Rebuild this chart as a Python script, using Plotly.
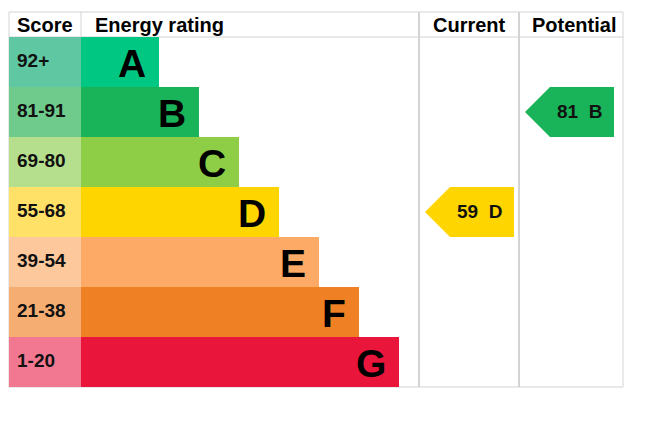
import plotly.graph_objects as go

# EPC data
bands = ["A", "B", "C", "D", "E", "F", "G"]
score_labels = ["92+", "81-91", "69-80", "55-68", "39-54", "21-38", "1-20"]
band_min = [92, 81, 69, 55, 39, 21, 1]
band_colors = ["#00c781", "#19b459", "#8dce46", "#ffd500", "#fcaa65", "#ef8023", "#e9153b"]
score_colors = ["#5fc7a1", "#6ecb8c", "#b6df8d", "#ffe168", "#fdc89c", "#f6ad72", "#f27891"]
current_score = 59
potential_score = 81

FONT = "Arial, Liberation Sans, sans-serif"
GRID = "#d3d3d3"

# table geometry (pixel-like x units, one row per y unit)
x_left, x_score, x_cur, x_pot, x_right = 9, 81, 419, 519, 623
bar_base, bar_step = 78, 40
y_top, y_head = -1.0, -0.5
y_bottom = len(bands) - 0.5
page_off = 8  # body margin of the page


def band_index(score):
    for i, lo in enumerate(band_min):
        if score >= lo:
            return i
    return len(bands) - 1


rows = list(range(len(bands)))
lengths = [bar_base + bar_step * i for i in rows]

fig = go.Figure()

# score cells
fig.add_trace(go.Bar(
    y=rows, x=[x_score - x_left] * len(rows), base=x_left,
    orientation="h", width=1.0,
    marker=dict(color=score_colors, line=dict(width=0)),
    hoverinfo="skip", showlegend=False
))

# rating bars
fig.add_trace(go.Bar(
    y=rows, x=lengths, base=x_score,
    orientation="h", width=1.0,
    marker=dict(color=band_colors, line=dict(width=0)),
    hoverinfo="skip", showlegend=False
))

# band letters and score text
for i in rows:
    fig.add_annotation(x=x_score + lengths[i] - 11, y=i + 0.02, text="<b>%s</b>" % bands[i],
                       xanchor="right", showarrow=False,
                       font=dict(family=FONT, size=39, color="black"))
    fig.add_annotation(x=x_left + 6, y=i - 0.04, text="<b>%s</b>" % score_labels[i],
                       xanchor="left", showarrow=False,
                       font=dict(family=FONT, size=19, color="#111"))


# arrows for current / potential
def add_arrow(score, col_left, col_right):
    i = band_index(score)
    tip = col_left + 6
    body = tip + 25
    right = col_right - 5 if col_right == x_pot else col_right - 9
    fig.add_trace(go.Scatter(
        x=[tip, body, right, right, body, tip],
        y=[i, i - 0.5, i - 0.5, i + 0.5, i + 0.5, i],
        mode="lines", fill="toself", fillcolor=band_colors[i],
        line=dict(width=0), hoverinfo="skip", showlegend=False
    ))
    fig.add_annotation(x=(body + right) / 2 - 3, y=i - 0.02,
                       text="<b>%d&nbsp;&nbsp;%s</b>" % (score, bands[i]),
                       showarrow=False, font=dict(family=FONT, size=19, color="#111"))


add_arrow(current_score, x_cur, x_pot)
add_arrow(potential_score, x_pot, x_right)

# headers
headers = [("Score", x_left + 6, "left"), ("Energy rating", x_score + 12, "left"),
           ("Current", (x_cur + x_pot) / 2, "center"), ("Potential", (x_pot + x_right) / 2 + 3, "center")]
for txt, hx, anchor in headers:
    fig.add_annotation(x=hx, y=(y_top + y_head) / 2, text="<b>%s</b>" % txt,
                       xanchor=anchor, showarrow=False,
                       font=dict(family=FONT, size=20, color="black"))

# grid lines
for yy in [y_top, y_head, y_bottom]:
    fig.add_shape(type="line", x0=x_left, x1=x_right, y0=yy, y1=yy,
                  line=dict(color=GRID, width=1), layer="below")
for xx, w in [(x_left, 1), (x_score, 1), (x_cur, 2), (x_pot, 2), (x_right, 1)]:
    fig.add_shape(type="line", x0=xx, x1=xx, y0=y_top, y1=y_bottom,
                  line=dict(color=GRID, width=w), layer="below")

fig.update_layout(
    width=659, height=423,
    margin=dict(l=0, r=0, t=0, b=0),
    paper_bgcolor="white", plot_bgcolor="white",
    barmode="overlay", bargap=0,
    xaxis=dict(range=[page_off, 659 + page_off], visible=False, fixedrange=True),
    yaxis=dict(range=[(423 + page_off - 62) / 50, (page_off - 62) / 50],
               visible=False, fixedrange=True),
)

fig.write_html("out.html", config={"displayModeBar": False})
